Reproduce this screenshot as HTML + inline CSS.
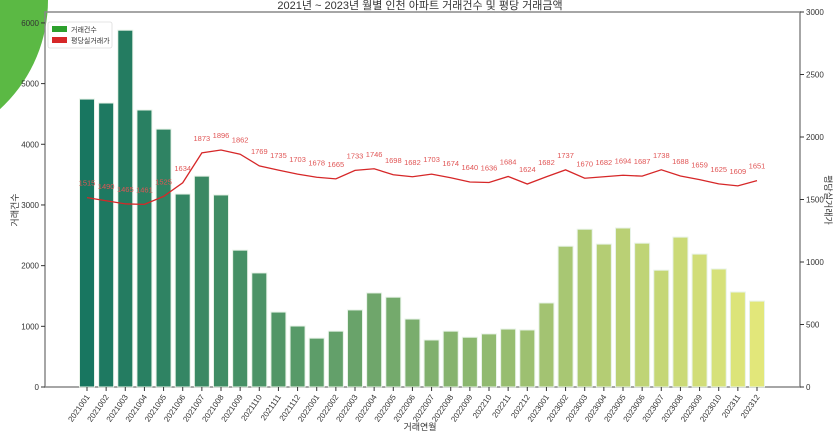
<!DOCTYPE html>
<html><head><meta charset="utf-8"><style>
body{margin:0;background:#fff;width:840px;height:437px;overflow:hidden;font-family:"Liberation Sans","Noto Sans CJK KR",sans-serif}
svg text{font-family:"Liberation Sans","Noto Sans CJK KR",sans-serif}
</style></head><body>
<svg id="c" width="840" height="437" xmlns="http://www.w3.org/2000/svg">
<circle cx="-100" cy="0" r="148" fill="#5bb944"/>
</svg>
<script>
const categories=["2021001","2021002","2021003","2021004","2021005","2021006","2021007","2021008","2021009","2021110","2021111","2021112","2022001","2022002","2022003","2022004","2022005","2022006","2022007","2022008","2022009","202210","202211","202212","2023001","2023002","2023003","2023004","2023005","2023006","2023007","2023008","2023009","2023010","202311","202312"];
const counts=[4745,4680,5880,4565,4250,3180,3475,3165,2255,1880,1235,1005,805,920,1270,1550,1480,1120,775,920,820,875,955,940,1385,2320,2600,2355,2620,2370,1925,2470,2190,1945,1565,1415];
const prices=[1515,1490,1465,1461,1525,1634,1873,1896,1862,1769,1735,1703,1678,1665,1733,1746,1698,1682,1703,1674,1640,1636,1684,1624,1682,1737,1670,1682,1694,1687,1738,1688,1659,1625,1609,1651];
const leftTicks=[0,1000,2000,3000,4000,5000,6000];
const rightTicks=[0,500,1000,1500,2000,2500,3000];
const svg=document.getElementById('c');const NS='http://www.w3.org/2000/svg';
const L=45,R=800,T=12,B=387;
const yL=v=>B-v*(B-T)/6180, yR=v=>B-v*(B-T)/3000;
const step=(R-L)/36.45, x=i=>87+i*((757-87)/(categories.length-1));
function mk(t,a,p){const e=document.createElementNS(NS,t);for(const k in a)e.setAttribute(k,a[k]);(p||svg).appendChild(e);return e;}
function lerp(a,b,t){return Math.round(a+(b-a)*t);}
// frame
const fr=mk('rect',{x:L,y:T,width:R-L,height:B-T,fill:'none',stroke:'#888','stroke-width':1.5});

const tt=mk('text',{x:420,y:9,'text-anchor':'middle','font-size':11,fill:'#333'});tt.textContent='2021년 ~ 2023년 월별 인천 아파트 거래건수 및 평당 거래금액';

// bars
categories.forEach((c,i)=>{const t=i/(categories.length-1);
 const col=`rgb(${lerp(24,226,t)},${lerp(118,231,t)},${lerp(96,122,t)})`;
 const b=mk('rect',{x:x(i)-7.5,y:yL(counts[i]),width:15,height:B-yL(counts[i]),fill:col,stroke:'#e8f3e8','stroke-width':1});
 
 mk('line',{x1:x(i),x2:x(i),y1:B,y2:B+4,stroke:'#333'});
 const lb=mk('text',{x:0,y:0,'font-size':8,fill:'#333','text-anchor':'end',transform:`translate(${x(i)+3},${B+10}) rotate(-55)`});lb.textContent=c;
 
});
leftTicks.forEach(v=>{mk('line',{x1:L-4,x2:L,y1:yL(v),y2:yL(v),stroke:'#333'});
 const t=mk('text',{x:L-6,y:yL(v)+3,'font-size':8,fill:'#333','text-anchor':'end'});t.textContent=v;
 });
rightTicks.forEach(v=>{mk('line',{x1:R,x2:R+4,y1:yR(v),y2:yR(v),stroke:'#333'});
 const t=mk('text',{x:R+6,y:yR(v)+3,'font-size':8,fill:'#333'});t.textContent=v;
 });
// line
const pl=mk('polyline',{points:prices.map((p,i)=>x(i)+','+yR(p)).join(' '),fill:'none',stroke:'#d62728','stroke-width':1.3});

prices.forEach((p,i)=>{const t=mk('text',{x:x(i),y:yR(p)-12,'font-size':7.5,fill:'#e05555','text-anchor':'middle'});t.textContent=p;
 });
// axis titles
let a=mk('text',{x:0,y:0,'font-size':9,fill:'#333','text-anchor':'middle',transform:'translate(18,210) rotate(-90)'});a.textContent='거래건수';

a=mk('text',{x:0,y:0,'font-size':9,fill:'#333','text-anchor':'middle',transform:'translate(825,200) rotate(90)'});a.textContent='평당실거래가';

a=mk('text',{x:420,y:430,'font-size':9,fill:'#333','text-anchor':'middle'});a.textContent='거래연월';

// legend
const g=mk('g',{});
mk('rect',{x:48,y:22,width:64,height:26,fill:'#fff',stroke:'#ddd','stroke-width':0.8,rx:2},g);
mk('rect',{x:52,y:26,width:15,height:6,fill:'#2ca02c'},g);
mk('rect',{x:52,y:37,width:15,height:6,fill:'#d62728'},g);
let t1=mk('text',{x:71,y:32,'font-size':7,fill:'#333'},g);t1.textContent='거래건수';

let t2=mk('text',{x:71,y:43,'font-size':7,fill:'#333'},g);t2.textContent='평당실거래가';

</script>
</body></html>
